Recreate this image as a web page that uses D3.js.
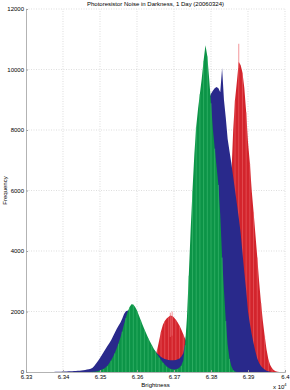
<!DOCTYPE html>
<html>
<head>
<meta charset="utf-8">
<script src="https://cdn.jsdelivr.net/npm/d3@7"></script>
<style>
  body { margin: 0; background: #fff; }
  text { font-family: "Liberation Sans", Arial, sans-serif; fill: #000; }
</style>
</head>
<body>
<div id="chart"></div>
<script>
// Histogram data, brightness in raw units, bins every 5 units
const binWidth = 5;
const blueStart = 63380;
const blueCounts = [
  5, 8, 10, 12, 15, 18, 20, 22, 25, 28, 30, 35, 40, 45, 50, 58, 65, 80, 95, 110,
  140, 210, 290, 370, 460, 560, 660, 760, 860, 950, 1050, 1170, 1300, 1420, 1530, 1630, 1760, 1920, 2010, 2030,
  1960, 1880, 1810, 1740, 1620, 1520, 1410, 1290, 1180, 1080, 990, 900, 820, 740, 670, 610, 550, 500, 460, 430,
  410, 395, 385, 385, 390, 400, 420, 450, 510, 620, 950, 1450, 2100, 2800, 3700, 4700, 5600, 6400, 7000, 7600,
  8100, 8550, 8850, 9050, 9200, 9300, 9380, 9420, 9380, 9250, 10050, 9000, 8400, 7700, 7300, 6900, 6450, 6000, 5550, 5100,
  4600, 3950, 3300, 2700, 2000, 1600, 1250, 950, 680, 450, 300, 200, 130, 80, 45, 25, 12
];
const greenStart = 63480;
const greenCounts = [
  5, 10, 20, 35, 55, 80, 110, 150, 210, 290, 390, 500, 630, 780, 950, 1130, 1350, 1580, 1800, 2000,
  2150, 2240, 2230, 2150, 2030, 1880, 1720, 1560, 1410, 1270, 1130, 1010, 890, 780, 680, 580, 490, 400, 320, 250,
  190, 140, 110, 90, 85, 90, 110, 150, 220, 380, 900, 1800, 3200, 4700, 6000, 7200, 8100, 8700, 9200, 9700,
  10300, 10800, 10450, 9700, 8900, 8050, 7400, 6800, 6200, 5200, 3800, 2700, 1700, 900, 450, 200, 70, 20
];
const redStart = 63625;
const redCounts = [
  20, 60, 130, 230, 360, 520, 760, 1050, 1350, 1560, 1690, 1770, 1820, 1870, 1850, 1800, 1730, 1640, 1530, 1400,
  1250, 1100, 950, 800, 680, 580, 500, 450, 420, 400, 400, 420, 450, 500, 570, 650, 750, 870, 1000, 1150,
  1350, 1650, 2100, 2800, 3800, 5000, 6500, 8000, 9000, 9600, 10250, 10150, 9900, 9400, 8600, 7600, 6900, 6000, 5300, 4550,
  3800, 3000, 2300, 1700, 1200, 750, 420, 230, 120, 60, 25, 10
];
// single-bin spikes poking above the red hump
const redSpikes = [[63875, 10850], [63695, 2000], [63690, 1960]];
const xTicks = [63300, 63400, 63500, 63600, 63700, 63800, 63900, 64000];
const xTickLabels = ["6.33", "6.34", "6.35", "6.36", "6.37", "6.38", "6.39", "6.4"];
const yTicks = [0, 2000, 4000, 6000, 8000, 10000, 12000];

// series drawn back to front: red, blue, green
const series = [
  { name: "red", start: redStart, counts: redCounts, fill: "#d3242c", stripe: "#ee6a70" },
  { name: "blue", start: blueStart, counts: blueCounts, fill: "#29298b", stripe: null },
  { name: "green", start: greenStart, counts: greenCounts, fill: "#0c9447", stripe: "#45c078" },
];

const W = 290, H = 390;
const margin = { top: 9, right: 5, bottom: 18, left: 26 };

const svg = d3.select("#chart").append("svg")
  .attr("width", W).attr("height", H);

const x = d3.scaleLinear().domain([63300, 64000]).range([margin.left, W - margin.right]);
const y = d3.scaleLinear().domain([0, 12000]).range([H - margin.bottom, margin.top]);

// grid
const grid = svg.append("g").attr("stroke", "#c8c8c8").attr("stroke-width", 0.6).attr("stroke-dasharray", "1,1.5");
grid.selectAll("line.gx").data(xTicks.slice(1)).join("line")
  .attr("x1", d => x(d)).attr("x2", d => x(d))
  .attr("y1", y(0)).attr("y2", y(12000));
grid.selectAll("line.gy").data(yTicks.slice(1)).join("line")
  .attr("x1", x(63300)).attr("x2", x(64000))
  .attr("y1", d => y(d)).attr("y2", d => y(d));

const area = d3.area()
  .x(d => x(d.b))
  .y0(y(0))
  .y1(d => y(d.c));

// histogram bodies
series.forEach(s => {
  const g = svg.append("g");
  const bins = s.counts.map((c, i) => ({ b: s.start + i * binWidth, c: c, i: i }));
  const padded = [{ b: bins[0].b - binWidth, c: 0 }, ...bins, { b: bins[bins.length - 1].b + binWidth, c: 0 }];
  g.append("path").datum(padded).attr("d", area).attr("fill", s.fill);
  if (s.stripe) {
    g.selectAll("line").data(bins.filter(d => d.i % 2 === 0)).join("line")
      .attr("x1", d => x(d.b)).attr("x2", d => x(d.b))
      .attr("y1", d => y(d.c) + 0.5).attr("y2", y(0))
      .attr("stroke", s.stripe).attr("stroke-width", 0.55);
  }
  if (s.name === "red") {
    g.selectAll("line.spike").data(redSpikes).join("line").attr("class", "spike")
      .attr("x1", d => x(d[0])).attr("x2", d => x(d[0]))
      .attr("y1", d => y(d[1])).attr("y2", d => y(d[1] - 800))
      .attr("stroke", s.stripe).attr("stroke-width", 0.7);
  }
});

// axes
const xAxis = d3.axisBottom(x).tickValues(xTicks).tickFormat((d, i) => xTickLabels[i]).tickSize(-2).tickPadding(3);
const yAxis = d3.axisLeft(y).tickValues(yTicks).tickFormat(d3.format("d")).tickSize(-2).tickPadding(2);

const gx = svg.append("g").attr("transform", `translate(0,${y(0)})`).call(xAxis);
const gy = svg.append("g").attr("transform", `translate(${x(63300)},0)`).call(yAxis);
[gx, gy].forEach(g => {
  g.select(".domain").attr("stroke", "#a0a0a0").attr("stroke-width", 0.8);
  g.selectAll(".tick line").attr("stroke", "#a0a0a0");
  g.selectAll("text").attr("font-size", 6).attr("fill", "#000");
});

// labels
svg.append("text").attr("x", (x(63300) + x(64000)) / 2).attr("y", 6)
  .attr("text-anchor", "middle").attr("font-size", 6)
  .text("Photoresistor Noise in Darkness, 1 Day (20060324)");
svg.append("text").attr("x", (x(63300) + x(64000)) / 2).attr("y", 387)
  .attr("text-anchor", "middle").attr("font-size", 6).text("Brightness");
svg.append("text").attr("transform", `translate(7,${(y(0) + y(12000)) / 2}) rotate(-90)`)
  .attr("text-anchor", "middle").attr("font-size", 6).text("Frequency");
const ex = svg.append("text").attr("x", 273).attr("y", 389).attr("font-size", 6);
ex.append("tspan").text("x 10");
ex.append("tspan").attr("font-size", 4).attr("dy", -3).text("4");
</script>
</body>
</html>
